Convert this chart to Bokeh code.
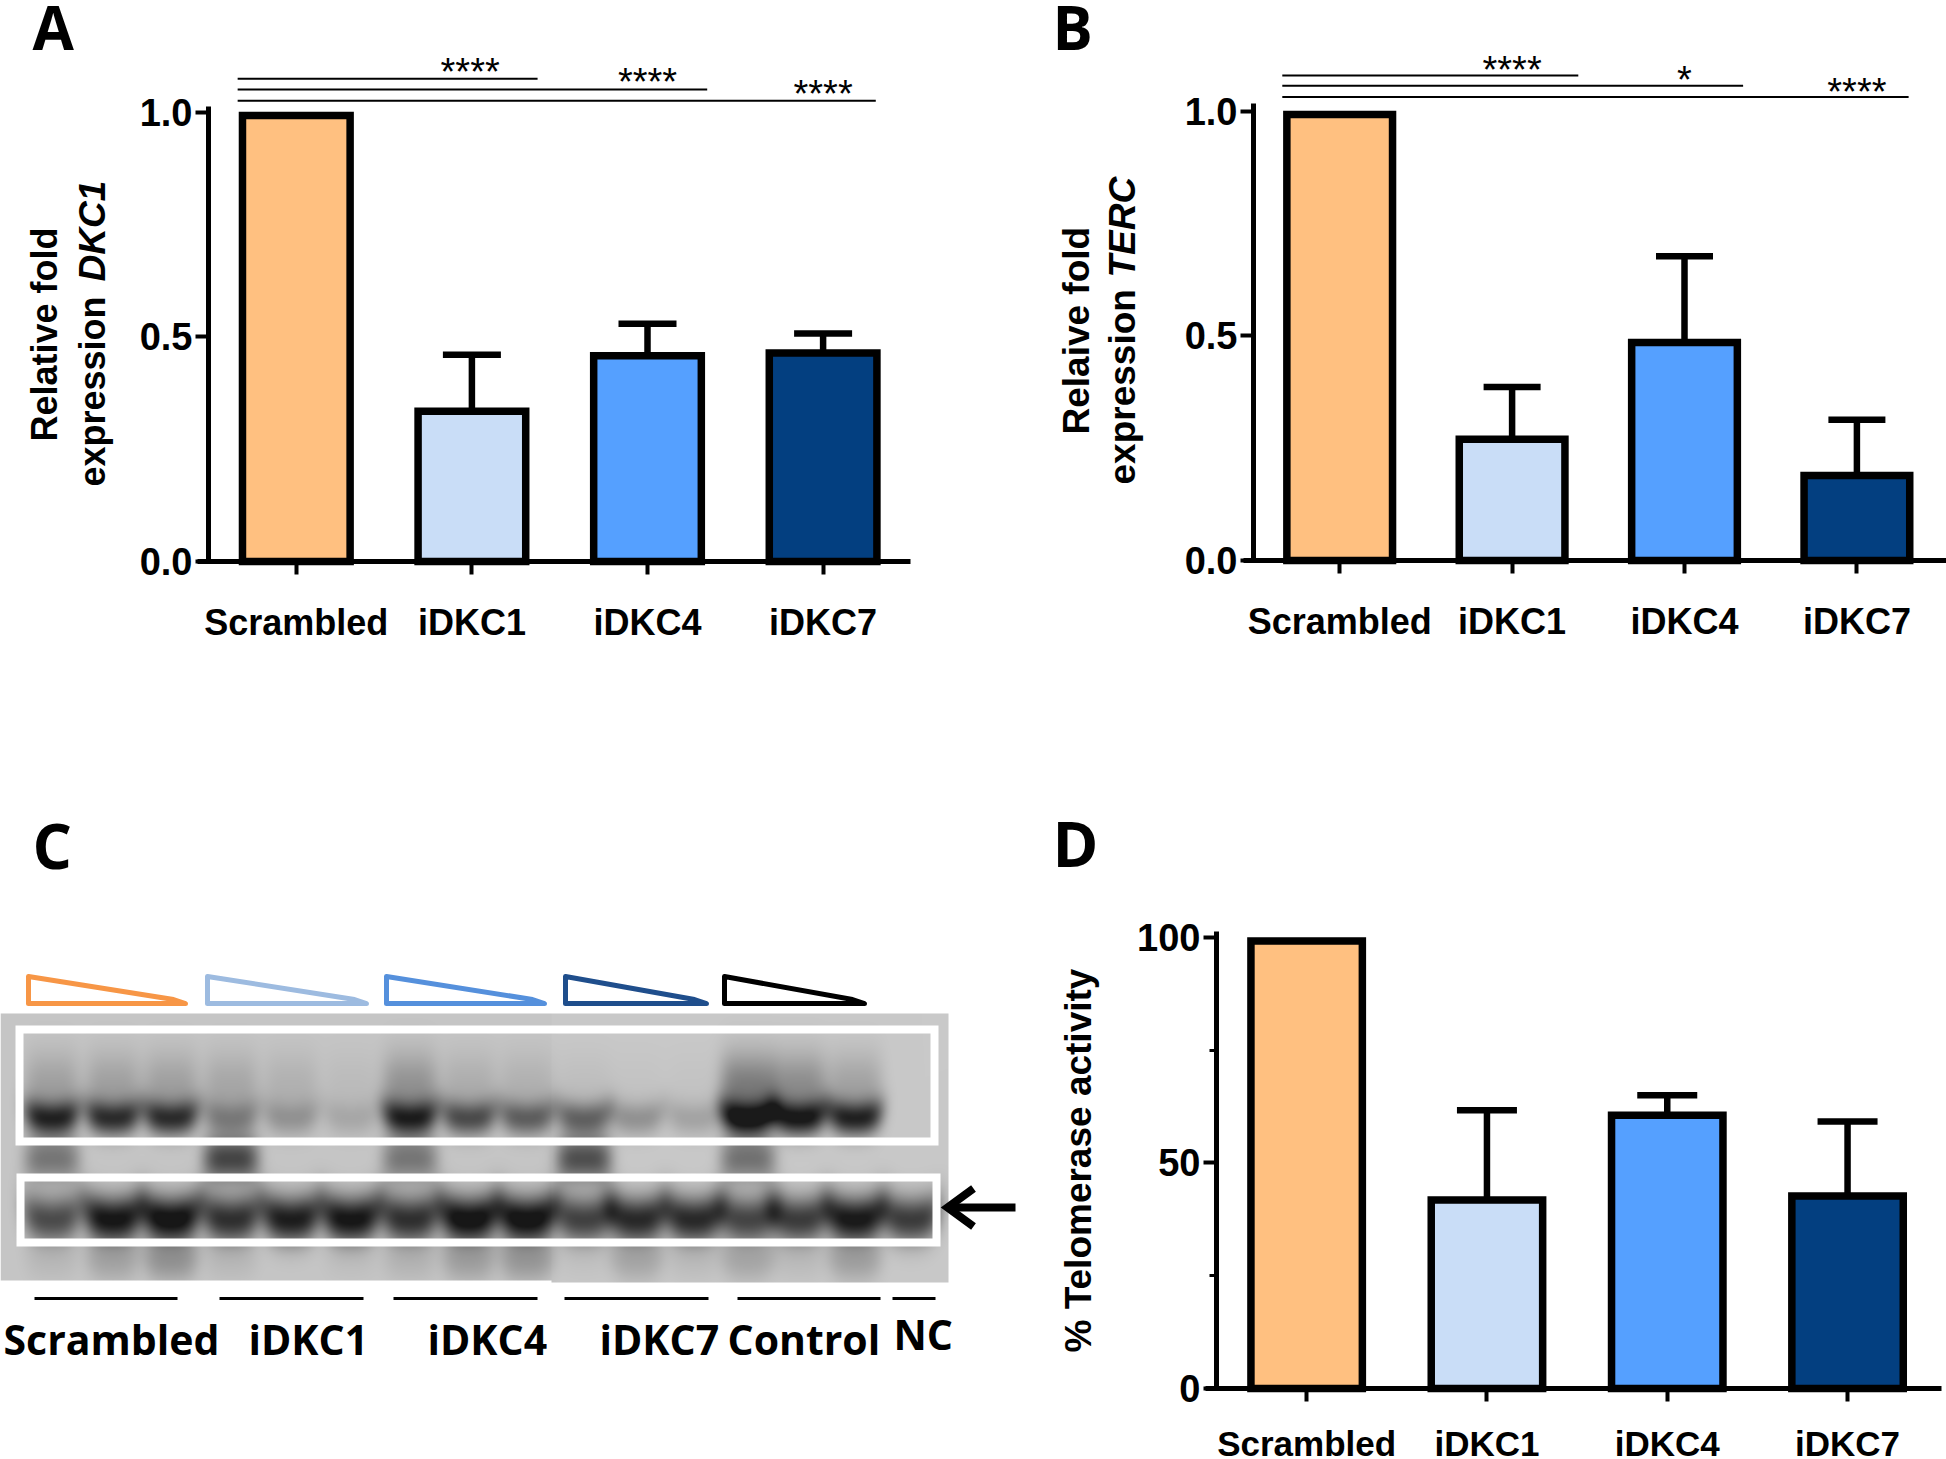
import math
import numpy as np
from bokeh.embed import file_html
from bokeh.resources import INLINE
from bokeh.core.properties import value
from bokeh.layouts import column, row
from bokeh.models import ColumnDataSource, FixedTicker, LinearAxis, Range1d, TeeHead, Whisker
from bokeh.plotting import figure

# ---- data ----
categories = ["Scrambled", "iDKC1", "iDKC4", "iDKC7"]
bar_colors = ["#FFC080", "#C9DDF7", "#55A0FF", "#033F80"]

dkc1_values = [0.992, 0.334, 0.458, 0.464]
dkc1_upper = [None, 0.46, 0.529, 0.507]
terc_values = [0.992, 0.270, 0.485, 0.189]
terc_upper = [None, 0.386, 0.677, 0.313]
telomerase_values = [99.2, 41.8, 60.6, 42.7]
telomerase_upper = [None, 61.7, 65.0, 59.2]

ratio_ticks = [0.0, 0.5, 1.0]
ratio_tick_labels = ["0.0", "0.5", "1.0"]
percent_ticks = [0, 50, 100]
percent_minor_ticks = [25, 75]
percent_tick_labels = ["0", "50", "100"]

dkc1_brackets = [(0.166, 1.874, 1.074, "****"), (0.166, 2.84, 1.050, "****"), (0.166, 3.80, 1.025, "****")]
terc_brackets = [(0.167, 1.884, 1.079, "****"), (0.167, 2.84, 1.056, "*"), (0.167, 3.80, 1.031, "****")]

# gel band darkness per lane, read by eye (5 x 3 lanes + NC)
lane_centers = [51, 112, 170, 230, 290, 350, 409, 468, 526, 583, 636, 693, 747, 798, 854, 910]
upper_band = [.85, .80, .80, .35, .25, .15, .85, .65, .55, .55, .30, .20, 1.0, .92, .88, 0]
upper_smear = [.22, .22, .22, .18, .12, .06, .30, .14, .12, .06, .03, .03, .45, .35, .22, 0]
gap_band = [.55, 0, 0, .90, 0, 0, .55, 0, 0, .85, 0, 0, .60, 0, 0, 0]
lower_band = [.65, .95, 1.0, .80, .90, .95, .80, 1.0, 1.0, .72, .85, .85, .70, .75, .95, .75]
faint_band = [.10, .28, .42, .10, 0, .05, .14, .32, .38, .05, .28, .10, .28, .10, .33, 0]

gel_labels = ["Scrambled", "iDKC1", "iDKC4", "iDKC7", "Control", "NC"]
triangle_colors = ["#F79646", "#9DBBE0", "#5590DC", "#1F4E8C", "#000000"]

FONT = "Liberation Sans"
LETTER_FONT = "Open Sans"


class Panel:
    """A figure whose whole canvas is its frame, placed in picture pixels."""

    def __init__(self, width, height, ox, oy, spine_x, y0_px, unit, spacing):
        self.ox, self.oy, self.spine_x, self.y0, self.unit, self.spacing = ox, oy, spine_x, y0_px, unit, spacing
        self.p = figure(width=width, height=height, output_backend="svg", toolbar_location=None,
                        x_range=Range1d(self.dx(ox), self.dx(ox + width)),
                        y_range=Range1d(self.dy(oy + height), self.dy(oy)),
                        x_axis_type=None, y_axis_type=None, min_border=0)
        self.p.outline_line_color = None
        self.p.grid.visible = False

    def dx(self, px):
        return (px - self.spine_x) / self.spacing

    def dy(self, py):
        return (self.y0 - py) / self.unit

    def text(self, text, px, py, size, font=FONT, style="bold", angle=0.0, baseline="alphabetic"):
        self.p.text(x=[self.dx(px)], y=[self.dy(py)], text=[text], angle=angle,
                    text_font=value(font), text_font_style=style, text_font_size=f"{size}px",
                    text_align="left", text_baseline=baseline, text_color="black")


def bars(panel, values, upper, y_ticks, y_labels, y_bound, x_bound, cap, label_size, standoff,
         bar_width, minor=None, y_size=38):
    p = panel.p
    xs = [i + 0.5 for i in range(len(categories))]
    err = ColumnDataSource(dict(x=[x for x, u in zip(xs, upper) if u is not None],
                                base=[v for v, u in zip(values, upper) if u is not None],
                                top=[u for u in upper if u is not None]))
    p.add_layout(Whisker(base="x", lower="base", upper="top", source=err, dimension="height",
                         upper_head=TeeHead(size=cap, line_width=6.5, line_color="black"),
                         lower_head=None, line_width=6.5, line_color="black", level="underlay"))
    p.vbar(x=xs, top=values, bottom=0, width=bar_width, fill_color=bar_colors, line_color="black",
           line_width=7.5, line_join="miter")
    xaxis = LinearAxis(ticker=FixedTicker(ticks=xs), fixed_location=0, bounds=(-0.06, x_bound),
                       major_label_overrides={x: c for x, c in zip(xs, categories)})
    xaxis.axis_line_width = 5
    xaxis.major_tick_line_width = 4
    xaxis.major_tick_in = 0
    xaxis.major_tick_out = 13
    xaxis.minor_tick_out = 0
    xaxis.minor_tick_in = 0
    xaxis.major_label_text_font = FONT
    xaxis.major_label_text_font_style = "bold"
    xaxis.major_label_text_font_size = f"{label_size}px"
    xaxis.major_label_text_color = "black"
    xaxis.major_label_standoff = standoff
    p.add_layout(xaxis, "below")
    yaxis = LinearAxis(ticker=FixedTicker(ticks=y_ticks, minor_ticks=minor or []), fixed_location=0,
                       bounds=(0, y_bound),
                       major_label_overrides={t: l for t, l in zip(y_ticks, y_labels)})
    yaxis.axis_line_width = 5
    yaxis.major_tick_line_width = 4
    yaxis.major_tick_in = 0
    yaxis.major_tick_out = 13
    yaxis.minor_tick_in = 0
    yaxis.minor_tick_out = 7 if minor else 0
    yaxis.minor_tick_line_width = 3
    yaxis.major_label_text_font = FONT
    yaxis.major_label_text_font_style = "bold"
    yaxis.major_label_text_font_size = f"{y_size}px"
    yaxis.major_label_text_color = "black"
    yaxis.major_label_standoff = 3
    p.add_layout(yaxis, "left")


def brackets(panel, rows, star_x, star_offset, size=38):
    p = panel.p
    for (x0, x1, lvl, stars), sx in zip(rows, star_x):
        p.line([x0, x1], [lvl, lvl], line_color="black", line_width=2)
        p.text(x=[sx], y=[lvl + star_offset], text=[stars], text_font=value(FONT),
               text_font_size=f"{size}px", text_align="center", text_baseline="alphabetic",
               text_color="black")


# ---- panel A ----
A = Panel(1040, 800, 0, 0, 208, 561, 449.5, 175.6)
brackets(A, dkc1_brackets, [1.49, 2.50, 3.50], 0.016)
bars(A, dkc1_values, dkc1_upper, ratio_ticks, ratio_tick_labels, 1.012, 4.0, 58, 36, 27, 0.613)
A.text("A", 32, 26, 60, font=LETTER_FONT)
A.text("Relative fold", 44, 441, 36, angle=math.pi / 2, baseline="middle")
A.text("expression ", 92, 486, 36, angle=math.pi / 2, baseline="middle")
A.text("DKC1", 92, 281, 37, style="bold italic", angle=math.pi / 2, baseline="middle")

# ---- panel B ----
B = Panel(906, 800, 1040, 0, 1253, 560, 449.5, 172.4)
brackets(B, terc_brackets, [1.50, 2.50, 3.50], 0.012)
bars(B, terc_values, terc_upper, ratio_ticks, ratio_tick_labels, 1.016, 4.02, 57, 36, 27, 0.613)
B.text("B", 1052, 26, 60, font=LETTER_FONT)
B.text("Relaive fold", 1076, 434, 37, angle=math.pi / 2, baseline="middle")
B.text("expression ", 1122, 484, 37, angle=math.pi / 2, baseline="middle")
B.text("TERC", 1122, 277, 37, style="bold italic", angle=math.pi / 2, baseline="middle")

# ---- panel C : gel picture, drawn in picture pixels ----
pC = figure(width=1040, height=659, output_backend="svg", toolbar_location=None,
            x_range=Range1d(0, 1040), y_range=Range1d(0, 659), x_axis_type=None, y_axis_type=None,
            min_border=0)
pC.outline_line_color = None
pC.grid.visible = False
Y = lambda py: 1459 - py

gx = np.arange(0, 948)[None, :]
gy = np.arange(1013, 1282)[:, None]


def band(center_y, sigma, weights, half=28.0, smile=7.0):
    out = np.zeros((gy.size, gx.size))
    for c, w in zip(lane_centers, weights):
        if w <= 0:
            continue
        u = (gx - c) / half
        across = np.exp(-np.abs(u) ** 4)
        out += w * across * np.exp(-((gy - (center_y - smile * u ** 2)) / sigma) ** 2)
    return out


dark = (0.88 * band(1118, 17, upper_band) + 0.85 * band(1085, 34, upper_smear, smile=0)
        + 0.72 * band(1158, 22, gap_band, smile=0)
        + 0.95 * band(1219, 23, lower_band, half=30, smile=10)
        + 0.55 * band(1262, 20, faint_band, smile=6))
dark = np.clip(dark, 0, 0.88)
grey = 198 * (1 - dark)
grey[:, gx[0] >= 551] += 3
vals = np.clip(grey, 0, 255).astype(np.uint32)
rgba = (255 << 24) | (vals << 16) | (vals << 8) | vals
rgba[gy[:, 0] >= 1280, :] = np.where(gx[0] >= 551, rgba[gy[:, 0] >= 1280, :], 0xFFFFFFFF)
pC.image_rgba(image=[rgba[::-1].view(np.uint32)], x=0, y=Y(1282), dw=948, dh=269)

for x0, x1, y0, y1 in [(15, 938, 1025, 1145), (16, 940, 1173, 1246)]:
    pC.quad(left=x0 + 4, right=x1 - 4, top=Y(y0 + 4), bottom=Y(y1 - 4), fill_color=None,
            line_color="white", line_width=8, line_join="miter")

tri = [(28, 185), (207, 366), (386, 544), (565, 706), (724, 864)]
for (x0, x1), col in zip(tri, triangle_colors):
    pC.patch([x0, x0, x1, x1 - 12], [Y(976), Y(1003), Y(1003), Y(999)], fill_color=None,
             line_color=col, line_width=5, line_join="round")

for x0, x1 in [(34, 177), (219, 363), (393, 537), (564, 708), (737, 880), (892, 935)]:
    pC.line([x0, x1], [Y(1298), Y(1298)], line_color="black", line_width=3)

for t, xl, yb in zip(gel_labels, [3, 248, 427, 599, 727, 893], [1338, 1338, 1338, 1338, 1338, 1333]):
    pC.text(x=[xl], y=[Y(yb)], text=[t], text_font=value(LETTER_FONT), text_font_style="bold",
            text_font_size="41px", text_align="left", text_baseline="alphabetic", text_color="black")

pC.line([948, 1015], [Y(1207), Y(1207)], line_color="black", line_width=8)
pC.line([973, 947, 973], [Y(1188), Y(1207), Y(1226)], line_color="black", line_width=8, line_join="miter")
pC.text(x=[32], y=[Y(844)], text=["C"], text_font=value(LETTER_FONT), text_font_style="bold",
        text_font_size="62px", text_align="left", text_baseline="alphabetic", text_color="black")

# ---- panel D ----
D = Panel(906, 659, 1040, 800, 1216, 1388, 4.511, 180.3)
bars(D, telomerase_values, telomerase_upper, percent_ticks, percent_tick_labels, 101.4, 4.02, 60, 35,
     22, 0.618, minor=percent_minor_ticks)
D.text("D", 1052, 842, 62, font=LETTER_FONT)
D.text("% Telomerase activity", 1078, 1352, 37, angle=math.pi / 2, baseline="middle")

layout = column(row(A.p, B.p, spacing=0), row(pC, D.p, spacing=0), spacing=0)
open("out.html", "w").write(file_html(layout, INLINE))
